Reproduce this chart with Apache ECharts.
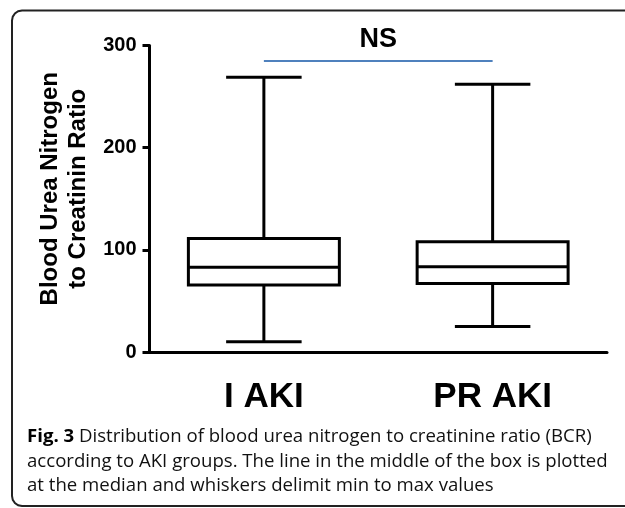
<!DOCTYPE html>
<html><head><meta charset="utf-8">
<script src="https://cdn.jsdelivr.net/npm/echarts@6/dist/echarts.min.js"></script>
<style>html,body{margin:0;padding:0;background:#fff;overflow:hidden;}#c{width:625px;height:508px;}</style>
</head><body><div id="c"></div>
<script>
// Data
var categories = ['I AKI', 'PR AKI'];
var minValues = [10, 25];
var q1Values = [65.5, 67];
var medianValues = [83, 83.5];
var q3Values = [111, 108];
var maxValues = [269, 262];
var yTicks = [0, 100, 200, 300];
var nsLevel = 285;
var nsLabel = 'NS';
var yTitle = 'Blood Urea Nitrogen\nto Creatinin Ratio';
var captionBold = 'Fig. 3';
var captionLines = [
  ' Distribution of blood urea nitrogen to creatinine ratio (BCR)',
  'according to AKI groups. The line in the middle of the box is plotted',
  'at the median and whiskers delimit min to max values'
];

var boxData = categories.map(function (c, i) {
  return [i, minValues[i], q1Values[i], medianValues[i], q3Values[i], maxValues[i]];
});

var chart = echarts.init(document.getElementById('c'), null, {renderer: 'canvas'});

function renderBox(params, api) {
  var idx = api.value(0);
  var pMin = api.coord([idx, api.value(1)]);
  var pQ1 = api.coord([idx, api.value(2)]);
  var pMed = api.coord([idx, api.value(3)]);
  var pQ3 = api.coord([idx, api.value(4)]);
  var pMax = api.coord([idx, api.value(5)]);
  var band = api.size([1, 0])[0];
  var w = band * 0.66;
  var cw = w / 2;
  var cx = pMed[0];
  var style = {stroke: '#000', lineWidth: 3, fill: null};
  return {
    type: 'group',
    children: [
      {type: 'rect', shape: {x: cx - w / 2, y: pQ3[1], width: w, height: pQ1[1] - pQ3[1]}, style: {stroke: '#000', lineWidth: 3, fill: '#fff'}},
      {type: 'line', shape: {x1: cx - w / 2, y1: pMed[1], x2: cx + w / 2, y2: pMed[1]}, style: style},
      {type: 'line', shape: {x1: cx, y1: pQ3[1], x2: cx, y2: pMax[1]}, style: style},
      {type: 'line', shape: {x1: cx, y1: pQ1[1], x2: cx, y2: pMin[1]}, style: style},
      {type: 'line', shape: {x1: cx - cw / 2, y1: pMax[1], x2: cx + cw / 2, y2: pMax[1]}, style: style},
      {type: 'line', shape: {x1: cx - cw / 2, y1: pMin[1], x2: cx + cw / 2, y2: pMin[1]}, style: style}
    ]
  };
}

var captionText = '{b|' + captionBold + '}{n|' + captionLines[0] + '}\n{n|' + captionLines[1] + '}\n{n|' + captionLines[2] + '}';

var borderPoints = [
  [700, 10.5], [22, 10.5], [18.17, 11.26], [14.93, 13.43], [12.76, 16.67], [12, 20.5],
  [12, 496], [12.76, 499.83], [14.93, 503.07], [18.17, 505.24], [22, 506], [700, 506]
];

var option = {
  animation: false,
  backgroundColor: '#fff',
  grid: {left: 149.5, right: 18, top: 45.5, bottom: 156},
  xAxis: {
    type: 'category',
    data: categories,
    boundaryGap: true,
    axisLine: {lineStyle: {color: '#000', width: 3}},
    axisTick: {alignWithLabel: true, length: 8, lineStyle: {color: '#000', width: 3}},
    axisLabel: {color: '#000', fontSize: 35, fontWeight: 'bold', fontFamily: 'Liberation Sans, Arial, sans-serif', margin: 28, lineHeight: 35},
    splitLine: {show: false}
  },
  yAxis: {
    type: 'value',
    min: yTicks[0],
    max: yTicks[yTicks.length - 1],
    interval: 100,
    name: yTitle,
    nameLocation: 'middle',
    nameRotate: 90,
    nameGap: 52,
    nameTextStyle: {color: '#000', fontSize: 24, fontWeight: 'bold', fontFamily: 'Liberation Sans, Arial, sans-serif', lineHeight: 28, padding: [0, 0, 0, 20]},
    axisLine: {show: true, lineStyle: {color: '#000', width: 3}},
    axisTick: {show: true, length: 7, lineStyle: {color: '#000', width: 3}},
    axisLabel: {color: '#000', fontSize: 20, fontWeight: 'bold', fontFamily: 'Liberation Sans, Arial, sans-serif', margin: 13},
    splitLine: {show: false}
  },
  series: [{
    type: 'custom',
    renderItem: renderBox,
    data: boxData,
    encode: {x: 0, y: [1, 2, 3, 4, 5]},
    z: 3,
    markLine: {
      silent: true,
      symbol: ['none', 'none'],
      lineStyle: {color: '#4F81BD', width: 2, type: 'solid'},
      label: {show: true, position: 'middle', formatter: nsLabel, color: '#000', fontSize: 27, fontWeight: 'bold', fontFamily: 'Liberation Sans, Arial, sans-serif', distance: 8},
      data: [[{coord: [categories[0], nsLevel]}, {coord: [categories[1], nsLevel]}]]
    }
  }],
  graphic: [
    {type: 'polyline', shape: {points: borderPoints}, style: {fill: null, stroke: '#222', lineWidth: 2}, z: -1},
    {type: 'text', x: 27, y: 424.5, style: {
      text: captionText,
      textVerticalAlign: 'top',
      rich: {
        b: {fontFamily: 'Open Sans, sans-serif', fontWeight: 'bold', fontSize: 18.6, lineHeight: 24.5, fill: '#000'},
        n: {fontFamily: 'Open Sans, sans-serif', fontSize: 18.6, lineHeight: 24.5, fill: '#111'}
      }
    }}
  ]
};
chart.setOption(option);
</script>
</body></html>
